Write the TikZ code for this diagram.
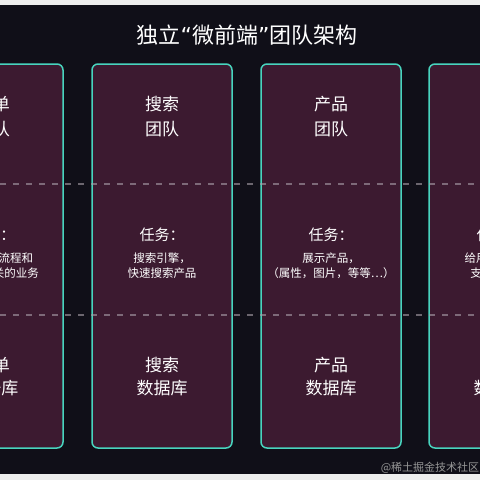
\documentclass[tikz,border=0pt]{standalone}
\usepackage{fontspec}
\setmainfont{Noto Sans CJK SC}
\newfontfamily\quotefont{DejaVu Sans}
\usepackage{tikz}
\usetikzlibrary{positioning}
\usepackage{xcolor}
\definecolor{mfbg}{RGB}{16,15,24}
\definecolor{mfpanel}{RGB}{60,26,48}
\definecolor{mfteal}{RGB}{72,212,190}
\definecolor{mfstrip}{RGB}{238,238,238}
\definecolor{mfdash}{RGB}{170,160,170}
\definecolor{mfmark}{RGB}{150,150,150}
\tikzstyle{team} = [rectangle, rounded corners=6pt, minimum width=140pt, minimum height=384pt, draw=mfteal, fill=mfpanel, line width=1.5pt]
\tikzstyle{teamname} = [text=white, align=center, font=\fontsize{17}{25}\selectfont]
\tikzstyle{taskhead} = [text=white, font=\fontsize{15}{18}\selectfont]
\tikzstyle{tasktext} = [text=white, align=center, font=\fontsize{11.5}{15}\selectfont]
\tikzstyle{dbname} = [text=white, align=center, font=\fontsize{17}{23}\selectfont]
\tikzstyle{divider} = [dash pattern=on 6pt off 7pt, line width=1.2pt, color=mfdash, opacity=0.6]

\begin{document}
\begin{tikzpicture}[x=1pt, y=-1pt]
\useasboundingbox (0,0) rectangle (480,480);
\clip (0,0) rectangle (480,480);
\fill[mfbg] (0,0) rectangle (480,480);
\fill[mfstrip] (0,0) rectangle (480,5);
\fill[mfstrip] (0,474) rectangle (480,480);

% Title
\node[text=white, font=\fontsize{22}{26}\selectfont] (title) at (247,35) {独立{\quotefont “}微前端{\quotefont ”}团队架构};

% Panels
\node[team] (order) at (-7,256) {};
\node[team] (search) at (162,256) {};
\node[team] (product) at (331,256) {};
\node[team] (pay) at (499,256) {};

% Separators
\draw[divider] (0,184) -- (480,184);
\draw[divider] (0,315) -- (480,315);

% Order team
\node[teamname] (ordername) at (-7,117) {订单\\团队};
\node[taskhead] (ordertask) at (-7,235) {任务：};
\node[tasktext] (orderjob) at (-7,266) {处理下单流程和\\与订单相关的业务};
\node[dbname] (orderdb) at (-7,377) {订单\\数据库};

% Search team
\node[teamname] (searchname) at (162,117) {搜索\\团队};
\node[taskhead] (searchtask) at (162,235) {任务：};
\node[tasktext] (searchjob) at (162,266) {搜索引擎，\\快速搜索产品};
\node[dbname] (searchdb) at (162,377) {搜索\\数据库};

% Product team
\node[teamname] (productname) at (331,117) {产品\\团队};
\node[taskhead] (producttask) at (331,235) {任务：};
\node[tasktext] (productjob) at (331,266) {展示产品，\\（属性，图片，等等…）};
\node[dbname] (productdb) at (331,377) {产品\\数据库};

% Payment team
\node[teamname] (payname) at (499,117) {支付\\团队};
\node[taskhead] (paytask) at (499,235) {任务：};
\node[tasktext] (payjob) at (499,266) {给用户提供，\\支付的功能};
\node[dbname] (paydb) at (499,377) {支付\\数据库};

% Watermark
\node[text=mfmark, font=\fontsize{11}{13}\selectfont] (mark) at (430,468) {@稀土掘金技术社区};
\end{tikzpicture}
\end{document}
